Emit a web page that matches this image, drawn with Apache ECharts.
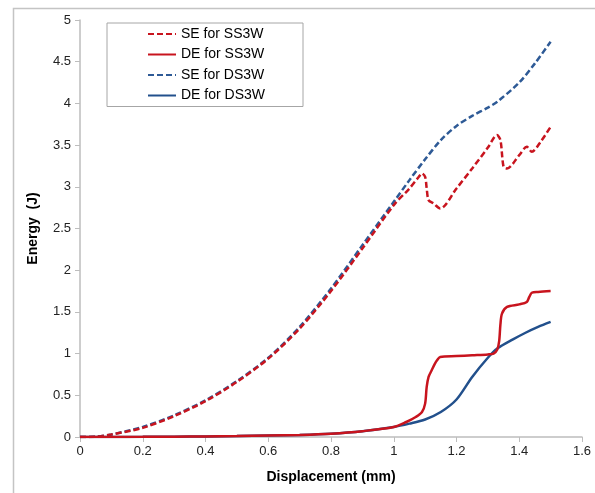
<!DOCTYPE html>
<html>
<head>
<meta charset="utf-8">
<script src="https://cdn.jsdelivr.net/npm/echarts@6/dist/echarts.min.js"></script>
<style>
  html, body { margin: 0; padding: 0; background: #fff; }
  #chart { width: 595px; height: 493px; }
</style>
</head>
<body>
<div id="chart"></div>
<script>
const seriesNames = ['SE for SS3W', 'DE for SS3W', 'SE for DS3W', 'DE for DS3W'];
const xTicks = [0, 0.2, 0.4, 0.6, 0.8, 1, 1.2, 1.4, 1.6];

// SE for SS3W (red dashed)
const seSSx = [0, 0.05, 0.1, 0.2, 0.3, 0.4, 0.5, 0.6, 0.7, 0.8, 0.9, 1.0, 1.05, 1.08, 1.09, 1.1, 1.105, 1.111, 1.127, 1.148, 1.2, 1.25, 1.3, 1.329, 1.34, 1.35, 1.361, 1.4, 1.424, 1.44, 1.47, 1.5];
const seSSy = [0, 0.003, 0.03, 0.11, 0.25, 0.43, 0.66, 0.94, 1.3, 1.75, 2.26, 2.78, 2.98, 3.12, 3.16, 3.12, 2.98, 2.84, 2.8, 2.74, 2.98, 3.22, 3.47, 3.62, 3.56, 3.24, 3.22, 3.38, 3.48, 3.42, 3.55, 3.72];

// DE for SS3W (red solid)
const deSSx = [0, 0.1, 0.2, 0.3, 0.4, 0.5, 0.6, 0.7, 0.8, 0.9, 1.0, 1.04, 1.07, 1.09, 1.1, 1.105, 1.111, 1.121, 1.13, 1.138, 1.148, 1.2, 1.25, 1.3, 1.318, 1.33, 1.336, 1.34, 1.345, 1.361, 1.4, 1.424, 1.432, 1.44, 1.46, 1.5];
const deSSy = [0, 0.001, 0.002, 0.004, 0.007, 0.011, 0.017, 0.025, 0.04, 0.07, 0.12, 0.18, 0.24, 0.3, 0.4, 0.6, 0.72, 0.8, 0.87, 0.92, 0.96, 0.97, 0.98, 0.99, 1.0, 1.05, 1.15, 1.35, 1.48, 1.56, 1.59, 1.62, 1.68, 1.73, 1.74, 1.75];

// SE for DS3W (blue dashed)
const seDSx = [0, 0.05, 0.1, 0.2, 0.3, 0.4, 0.5, 0.6, 0.7, 0.8, 0.9, 1.0, 1.05, 1.1, 1.15, 1.2, 1.25, 1.3, 1.33, 1.4, 1.45, 1.5];
const seDSy = [0, 0.003, 0.03, 0.12, 0.26, 0.44, 0.67, 0.95, 1.32, 1.78, 2.3, 2.82, 3.08, 3.33, 3.56, 3.73, 3.85, 3.95, 4.02, 4.25, 4.48, 4.74];

// DE for DS3W (blue solid)
const deDSx = [0, 0.1, 0.2, 0.3, 0.4, 0.5, 0.6, 0.7, 0.8, 0.9, 1.0, 1.05, 1.1, 1.15, 1.2, 1.25, 1.3, 1.33, 1.38, 1.42, 1.46, 1.5];
const deDSy = [0, 0.001, 0.002, 0.004, 0.007, 0.011, 0.017, 0.025, 0.04, 0.07, 0.12, 0.16, 0.21, 0.3, 0.45, 0.72, 0.95, 1.06, 1.17, 1.25, 1.32, 1.38];

const zip = (xs, ys) => xs.map((x, i) => [x, ys[i]]);

const red = '#C8141E';
const blueDash = '#2E5A96';
const blueSolid = '#22508C';

const chart = echarts.init(document.getElementById('chart'), null, { renderer: 'canvas' });

const lineSeries = (name, data, color, dashed) => ({
  name: name,
  type: 'line',
  data: data,
  symbol: 'none',
  showSymbol: false,
  smooth: 0.3,
  itemStyle: { color: color },
  lineStyle: { color: color, width: 2.5, type: dashed ? [6, 3] : 'solid' },
  animation: false,
});

const option = {
  backgroundColor: '#fff',
  textStyle: { fontFamily: 'Liberation Sans, Arial, sans-serif' },
  graphic: [
    {
      type: 'rect',
      left: 11,
      top: 6,
      shape: { width: 620, height: 520 },
      style: { fill: 'none', stroke: '#c4c4c4', lineWidth: 1.5 },
      silent: true,
    },
  ],
  grid: { left: 80, top: 20, right: 13, bottom: 56 },
  legend: {
    orient: 'vertical',
    left: 107,
    top: 23,
    data: seriesNames,
    itemWidth: 28,
    itemHeight: 14,
    itemGap: 6.5,
    padding: [4, 38, 4, 40],
    borderColor: '#a6a6a6',
    borderWidth: 1,
    backgroundColor: '#fff',
    itemStyle: { opacity: 0 },
    textStyle: { fontSize: 14, color: '#000', fontFamily: 'Liberation Sans, Arial, sans-serif' },
  },
  xAxis: {
    type: 'value',
    min: 0,
    max: 1.6,
    interval: 0.2,
    name: 'Displacement (mm)',
    nameLocation: 'middle',
    nameGap: 33,
    nameTextStyle: { fontSize: 14, fontWeight: 'bold', color: '#000' },
    axisLine: { lineStyle: { color: '#bdbdbd', width: 1.5 } },
    axisTick: { show: true, length: 5, lineStyle: { color: '#bdbdbd' } },
    axisLabel: {
      color: '#222',
      fontSize: 13,
      margin: 8,
      formatter: (v) => String(xTicks.find((t) => Math.abs(t - v) < 1e-6) ?? v),
    },
    splitLine: { show: false },
  },
  yAxis: {
    type: 'value',
    min: 0,
    max: 5,
    interval: 0.5,
    name: 'Energy  (J)',
    nameLocation: 'middle',
    nameGap: 40,
    nameTextStyle: { fontSize: 14, fontWeight: 'bold', color: '#000' },
    axisLine: { show: true, lineStyle: { color: '#bdbdbd', width: 1.5 } },
    axisTick: { show: true, length: 5, lineStyle: { color: '#bdbdbd' } },
    axisLabel: { color: '#222', fontSize: 13, margin: 9 },
    splitLine: { show: false },
  },
  series: [
    lineSeries(seriesNames[2], zip(seDSx, seDSy), blueDash, true),
    lineSeries(seriesNames[0], zip(seSSx, seSSy), red, true),
    lineSeries(seriesNames[3], zip(deDSx, deDSy), blueSolid, false),
    lineSeries(seriesNames[1], zip(deSSx, deSSy), red, false),
  ],
};

chart.setOption(option);
</script>
</body>
</html>
